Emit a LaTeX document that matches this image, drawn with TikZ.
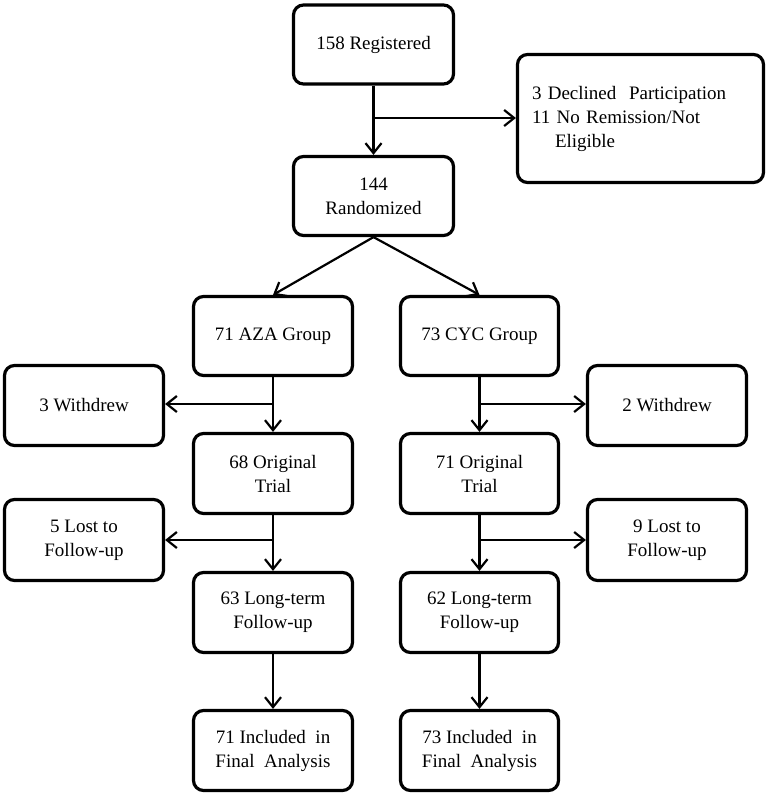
\documentclass[tikz,border=0pt]{standalone}
\usepackage{fontspec}
\setmainfont{Liberation Serif}
\usetikzlibrary{arrows.meta}
\begin{document}
\begin{tikzpicture}[x=1pt,y=-1pt,
  box/.style={draw, line width=3.2pt, rounded corners=10pt, align=center,
    inner sep=0pt, font=\fontsize{19}{24}\selectfont},
  conn/.style={line width=2.2pt, -{Straight Barb[length=10pt,width=16pt,line width=2.2pt]}},
  plain/.style={line width=2pt}]
\useasboundingbox (0,0) rectangle (768,795);
\node[box, minimum width=160pt, minimum height=79pt] (reg) at (373.5,44.5) {158 Registered};
\node[box, minimum width=246pt, minimum height=128pt, text width=217pt, align=left] (dec) at (640.5,118.5)
  {3 Declined\ \ Participation\\11 No Remission/Not\\\hspace*{23pt}Eligible};
\node[box, minimum width=160pt, minimum height=79pt] (rand) at (373.5,196) {144\\Randomized};
\node[box, minimum width=159pt, minimum height=79pt] (aza) at (273,336) {71 AZA Group};
\node[box, minimum width=158pt, minimum height=79pt] (cyc) at (479.5,336) {73 CYC Group};
\node[box, minimum width=159pt, minimum height=80pt] (w1) at (84,405.5) {3 Withdrew};
\node[box, minimum width=159pt, minimum height=80pt] (w2) at (667,405.5) {2 Withdrew};
\node[box, minimum width=159pt, minimum height=80pt] (o1) at (273,473.5) {68 Original\\Trial};
\node[box, minimum width=158pt, minimum height=80pt] (o2) at (479.5,473.5) {71 Original\\Trial};
\node[box, minimum width=159pt, minimum height=81pt] (l1) at (84,540) {5 Lost to\\Follow-up};
\node[box, minimum width=159pt, minimum height=81pt] (l2) at (667,540) {9 Lost to\\Follow-up};
\node[box, minimum width=159pt, minimum height=80pt] (lt1) at (273,612.5) {63 Long-term\\Follow-up};
\node[box, minimum width=158pt, minimum height=80pt] (lt2) at (479.5,612.5) {62 Long-term\\Follow-up};
\node[box, minimum width=159pt, minimum height=80pt] (i1) at (273,750.5) {71 Included\ \ in\\Final\ \ Analysis};
\node[box, minimum width=158pt, minimum height=80pt] (i2) at (479.5,750.5) {73 Included\ \ in\\Final\ \ Analysis};
% connectors
\draw[conn] (reg.south) -- (rand.north);
\coordinate (b0) at (373.5,118);
\draw[conn] (b0) -- (dec.west |- b0);
\draw[conn] (rand.south) -- (aza.north);
\draw[conn] (rand.south) -- (cyc.north);
\draw[conn] (aza.south) -- (o1.north);
\coordinate (b1) at (273,404);
\draw[conn] (b1) -- (w1.east |- b1);
\draw[conn] (cyc.south) -- (o2.north);
\coordinate (b2) at (479.5,404);
\draw[conn] (b2) -- (w2.west |- b2);
\draw[conn] (o1.south) -- (lt1.north);
\coordinate (b3) at (273,540);
\draw[conn] (b3) -- (l1.east |- b3);
\draw[conn] (o2.south) -- (lt2.north);
\coordinate (b4) at (479.5,540);
\draw[conn] (b4) -- (l2.west |- b4);
\draw[conn] (lt1.south) -- (i1.north);
\draw[conn] (lt2.south) -- (i2.north);
\end{tikzpicture}
\end{document}
